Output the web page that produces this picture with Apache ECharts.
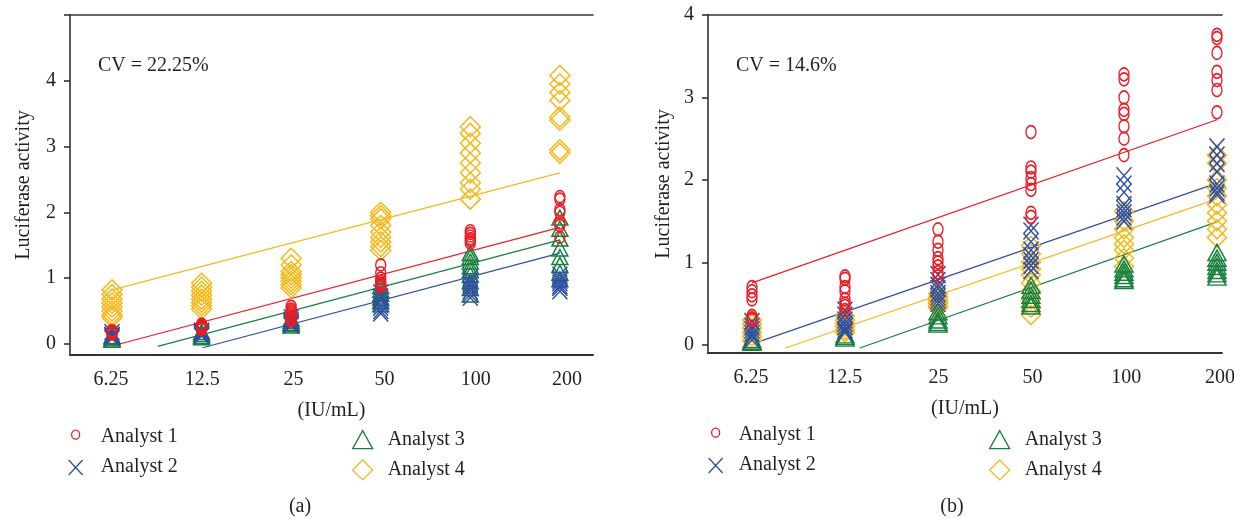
<!DOCTYPE html>
<html>
<head>
<meta charset="utf-8">
<script src="https://cdn.jsdelivr.net/npm/echarts@6/dist/echarts.min.js"></script>
<style>
html,body{margin:0;padding:0;background:#fff;}
#chart{width:1234px;height:518px;}
</style>
</head>
<body>
<div id="chart"></div>
<script>
// ---------- DATA ----------
const concLabels = ['6.25', '12.5', '25', '50', '100', '200'];
const analystNames = ['Analyst 1', 'Analyst 2', 'Analyst 3', 'Analyst 4'];
const yTicksLeft = [0, 1, 2, 3, 4];
const yTicksRight = [0, 1, 2, 3, 4];
const cvLeft = 'CV = 22.25%';
const cvRight = 'CV = 14.6%';

// Panel (a): values per concentration (6.25 ... 200)
const a1Left = [
  [0.2, 0.18, 0.16, 0.15, 0.17, 0.19],
  [0.3, 0.28, 0.26, 0.24, 0.22, 0.27, 0.25],
  [0.57, 0.53, 0.5, 0.47, 0.44, 0.41, 0.38, 0.35],
  [1.2, 1.08, 1.0, 0.95, 0.92, 0.9, 0.87],
  [1.72, 1.68, 1.64, 1.6, 1.57, 1.53],
  [2.24, 2.2, 2.04, 2.0, 1.84, 1.8, 1.62]
];
const a2Left = [
  [0.18, 0.14, 0.12, 0.1, 0.08],
  [0.2, 0.18, 0.16, 0.14, 0.12, 0.15],
  [0.4, 0.36, 0.33, 0.3, 0.28, 0.32],
  [0.78, 0.72, 0.66, 0.6, 0.55, 0.5, 0.46],
  [1.0, 0.95, 0.9, 0.85, 0.8, 0.75, 0.7],
  [1.05, 1.0, 0.96, 0.92, 0.88, 0.85, 0.8]
];
const a3Left = [
  [0.12, 0.1, 0.08, 0.06],
  [0.18, 0.15, 0.12, 0.1],
  [0.38, 0.35, 0.32, 0.3, 0.28],
  [0.88, 0.82, 0.76, 0.7, 0.65, 0.6],
  [1.38, 1.32, 1.25, 1.18, 1.12, 1.05, 0.95, 0.85, 0.75],
  [1.92, 1.75, 1.6, 1.45, 1.32, 1.2, 1.08, 0.98]
];
const a4Left = [
  [0.82, 0.75, 0.68, 0.62, 0.56, 0.5, 0.44, 0.4],
  [0.92, 0.86, 0.8, 0.74, 0.68, 0.63, 0.58, 0.53],
  [1.3, 1.2, 1.1, 1.05, 1.0, 0.95, 0.9, 0.85],
  [2.0, 1.95, 1.9, 1.8, 1.7, 1.62, 1.55, 1.48, 1.42],
  [3.3, 3.2, 3.05, 2.9, 2.75, 2.6, 2.45, 2.35, 2.2],
  [4.08, 3.95, 3.82, 3.7, 3.45, 3.4, 2.95, 2.9]
];
// fitted lines (start, end) as [concentration index, value]
const fit1Left = [[0.01, -0.03], [5, 1.77]];
const fit2Left = [[1.01, -0.06], [5, 1.38]];
const fit3Left = [[0.51, -0.04], [5, 1.58]];
const fit4Left = [[0, 0.82], [5, 2.6]];

// Panel (b)
const a1Right = [
  [0.7, 0.65, 0.6, 0.55, 0.35, 0.32, 0.3],
  [0.83, 0.8, 0.7, 0.65, 0.55, 0.5, 0.47, 0.42],
  [1.4, 1.25, 1.15, 1.05, 1.0, 0.95, 0.88, 0.83],
  [2.58, 2.15, 2.1, 2.02, 1.95, 1.88, 1.6, 1.55],
  [3.28, 3.22, 3.0, 2.85, 2.8, 2.65, 2.5, 2.3],
  [3.76, 3.72, 3.54, 3.31, 3.21, 3.09, 2.82]
];
const a2Right = [
  [0.28, 0.22, 0.18, 0.14, 0.1, 0.06],
  [0.42, 0.36, 0.3, 0.26, 0.22, 0.18, 0.15],
  [0.85, 0.78, 0.72, 0.68, 0.62, 0.58, 0.54, 0.5],
  [1.45, 1.38, 1.25, 1.15, 1.08, 1.02, 0.96, 0.9],
  [2.05, 1.95, 1.85, 1.7, 1.65, 1.6, 1.55, 1.5],
  [2.4, 2.3, 2.2, 2.1, 1.95, 1.9, 1.85, 1.82]
];
const a3Right = [
  [0.06, 0.04, 0.03],
  [0.12, 0.1, 0.08],
  [0.4, 0.35, 0.3, 0.27, 0.25],
  [0.72, 0.66, 0.6, 0.55, 0.5, 0.47],
  [0.98, 0.92, 0.88, 0.84, 0.8, 0.78],
  [1.12, 1.05, 1.0, 0.95, 0.9, 0.86, 0.82]
];
const a4Right = [
  [0.3, 0.25, 0.2, 0.15, 0.1, 0.05],
  [0.35, 0.3, 0.26, 0.22, 0.18, 0.15],
  [0.62, 0.58, 0.55, 0.52, 0.5, 0.47, 0.45],
  [1.2, 1.1, 1.0, 0.92, 0.85, 0.75, 0.65, 0.55, 0.45, 0.36],
  [1.62, 1.5, 1.4, 1.3, 1.22, 1.15, 1.05, 0.95],
  [2.3, 2.2, 2.0, 1.9, 1.8, 1.7, 1.6, 1.5, 1.4, 1.3]
];
const fit1Right = [[0, 0.75], [5, 2.73]];
const fit2Right = [[0.03, 0.02], [5, 1.96]];
const fit3Right = [[1.16, -0.04], [5, 1.49]];
const fit4Right = [[0.36, -0.04], [5, 1.77]];

// ---------- STYLE ----------
const RED = '#ec1c24', BLUE = '#2e4fa3', GREEN = '#17803d', YELLOW = '#f6b81a';
const TXT = '#231f20';
const FONT = '"Liberation Serif", "Times New Roman", serif';
const colors = [RED, BLUE, GREEN, YELLOW];

const ELLIPSE = 'path://M0,6A5,6,0,1,1,10,6A5,6,0,1,1,0,6Z';
const XMARK = 'path://M0,0L14,16M14,0L0,16';
const symbolsLeft = [
  {symbol: ELLIPSE, size: [10, 12]},
  {symbol: XMARK, size: [15, 16]},
  {symbol: 'triangle', size: [16, 15]},
  {symbol: 'diamond', size: [20, 20]}
];
const symbolsRight = [
  {symbol: ELLIPSE, size: [10, 13]},
  {symbol: XMARK, size: [15, 17]},
  {symbol: 'triangle', size: [18, 16]},
  {symbol: 'diamond', size: [19, 19]}
];

function toPoints(groups) {
  const out = [];
  groups.forEach((vals, i) => vals.forEach(v => out.push([i, v])));
  return out;
}

const leftSets = [a1Left, a2Left, a3Left, a4Left];
const rightSets = [a1Right, a2Right, a3Right, a4Right];
const leftFits = [fit1Left, fit2Left, fit3Left, fit4Left];
const rightFits = [fit1Right, fit2Right, fit3Right, fit4Right];

const drawOrder = [3, 2, 1, 0];
const series = [];
function addPanel(sets, fits, syms, xIdx, yIdx) {
  drawOrder.forEach(k => {
    series.push({
      type: 'line', xAxisIndex: xIdx, yAxisIndex: yIdx,
      data: fits[k], symbol: 'none', silent: true,
      lineStyle: {color: colors[k], width: 1.2}, z: 2, animation: false
    });
  });
  drawOrder.forEach(k => {
    series.push({
      type: 'scatter', name: analystNames[k], xAxisIndex: xIdx, yAxisIndex: yIdx,
      data: toPoints(sets[k]), symbol: syms[k].symbol, symbolSize: syms[k].size,
      itemStyle: {color: 'rgba(0,0,0,0)', borderColor: colors[k], borderWidth: 1.5, opacity: 1},
      z: 3, animation: false
    });
  });
}
addPanel(leftSets, leftFits, symbolsLeft, 0, 0);
addPanel(rightSets, rightFits, symbolsRight, 3, 1);

const axisLineStyle = {color: '#333', width: 1.6};
function frameAxis(gridIndex, min, max, position, width) {
  return {
    type: 'value', gridIndex, min, max, position,
    axisLine: {show: true, onZero: false, lineStyle: {color: '#333', width}},
    axisTick: {show: false}, axisLabel: {show: false}, splitLine: {show: false}
  };
}
function labelAxis(gridIndex, min, max) {
  return {
    type: 'value', gridIndex, min, max, position: 'bottom',
    name: '(IU/mL)', nameLocation: 'middle', nameGap: 46,
    nameTextStyle: {fontFamily: FONT, fontSize: 20, color: TXT},
    axisLine: {show: false, onZero: false}, axisTick: {show: false}, splitLine: {show: false},
    axisLabel: {
      show: true, margin: 15, fontFamily: FONT, fontSize: 20, color: TXT,
      customValues: concLabels.map((_, i) => i),
      formatter: v => concLabels[Math.round(v)]
    }
  };
}
function yAxis(gridIndex, min, max, ticks, labels, gap) {
  return {
    type: 'value', gridIndex, min, max,
    name: 'Luciferase activity', nameLocation: 'middle', nameGap: gap,
    nameTextStyle: {fontFamily: FONT, fontSize: 20, color: TXT},
    axisLine: {show: true, onZero: false, lineStyle: axisLineStyle},
    axisTick: {show: true, length: 6, customValues: ticks, lineStyle: {color: '#333', width: 1.6}},
    axisLabel: {show: true, margin: 14, fontFamily: FONT, fontSize: 20, color: TXT, customValues: labels},
    splitLine: {show: false}
  };
}

function legendIcon(k, cx) {
  const pad = 'M0,0M30,20';
  if (k === 0) return 'path://' + pad + 'M' + (cx - 4) + ',8A4,4.5,0,1,1,' + (cx + 4) + ',8A4,4.5,0,1,1,' + (cx - 4) + ',8Z';
  if (k === 1) return 'path://' + pad + 'M' + (cx - 7) + ',3L' + (cx + 7) + ',18M' + (cx + 7) + ',3L' + (cx - 7) + ',18';
  if (k === 2) return 'path://' + pad + 'M' + cx + ',1L' + (cx + 10) + ',19L' + (cx - 10) + ',19Z';
  return 'path://' + pad + 'M' + cx + ',0L' + (cx + 10) + ',10L' + cx + ',20L' + (cx - 10) + ',10Z';
}
function legend(left, top, ks, cx) {
  return {
    left, top, orient: 'vertical', itemGap: 9, itemWidth: 30, itemHeight: 20,
    padding: 0, selectedMode: false,
    textStyle: {fontFamily: FONT, fontSize: 20, color: TXT},
    data: ks.map(k => ({
      name: analystNames[k], icon: legendIcon(k, cx),
      itemStyle: {color: 'rgba(0,0,0,0)', borderColor: colors[k], borderWidth: 1.3}
    }))
  };
}

const option = {
  backgroundColor: '#fff',
  animation: false,
  grid: [
    {left: 70, top: 15, width: 523, height: 340, outerBoundsMode: 'none', containLabel: false},
    {left: 708, top: 15, width: 514, height: 338, outerBoundsMode: 'none', containLabel: false}
  ],
  xAxis: [
    frameAxis(0, -0.469, 5.37, 'bottom', 2),
    labelAxis(0, -0.45, 5.285),
    frameAxis(0, -0.469, 5.37, 'top', 1.6),
    frameAxis(1, -0.473, 5.054, 'bottom', 2),
    labelAxis(1, -0.458, 5.021),
    frameAxis(1, -0.473, 5.054, 'top', 1.6)
  ],
  yAxis: [
    yAxis(0, -0.17, 5, [0, 1, 2, 3, 4, 5], yTicksLeft, 36),
    yAxis(1, -0.1, 4, [0, 1, 2, 3, 4], yTicksRight, 34)
  ],
  legend: [
    legend(65, 426, [0, 1], 10),
    legend(352, 429, [2, 3], 10),
    legend(703, 424, [0, 1], 12),
    legend(989, 429, [2, 3], 10)
  ],
  graphic: [
    {type: 'text', x: 98, y: 66, style: {text: cvLeft, font: '20px ' + FONT, fill: TXT, align: 'left', verticalAlign: 'middle'}},
    {type: 'text', x: 736, y: 66, style: {text: cvRight, font: '20px ' + FONT, fill: TXT, align: 'left', verticalAlign: 'middle'}},
    {type: 'text', x: 300, y: 507, style: {text: '(a)', font: '20px ' + FONT, fill: TXT, align: 'center', verticalAlign: 'middle'}},
    {type: 'text', x: 952, y: 507, style: {text: '(b)', font: '20px ' + FONT, fill: TXT, align: 'center', verticalAlign: 'middle'}}
  ],
  series
};

const chart = echarts.init(document.getElementById('chart'), null, {renderer: 'canvas'});
chart.setOption(option);
</script>
</body>
</html>
